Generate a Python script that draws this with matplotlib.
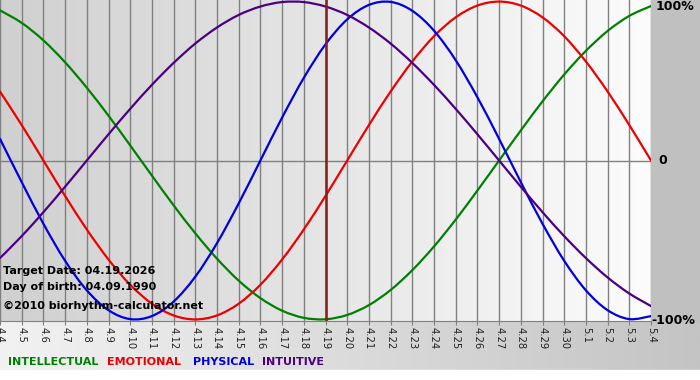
import numpy as np
import matplotlib
matplotlib.use("Agg")
import matplotlib.pyplot as plt
from matplotlib.colors import LinearSegmentedColormap
from matplotlib.path import Path
from matplotlib.patches import PathPatch

# ---- data (one value per day) ----
dates = ["4.4", "4.5", "4.6", "4.7", "4.8", "4.9", "4.10", "4.11", "4.12", "4.13",
         "4.14", "4.15", "4.16", "4.17", "4.18", "4.19", "4.20", "4.21", "4.22", "4.23",
         "4.24", "4.25", "4.26", "4.27", "4.28", "4.29", "4.30", "5.1", "5.2", "5.3", "5.4"]

intellectual = [0.945, 0.866, 0.756, 0.618, 0.458, 0.282, 0.095, -0.095, -0.282, -0.458,
                -0.618, -0.756, -0.866, -0.945, -0.990, -0.999, -0.972, -0.910, -0.815, -0.690,
                -0.541, -0.372, -0.189, 0.000, 0.189, 0.372, 0.541, 0.690, 0.815, 0.910, 0.972]

emotional = [0.434, 0.223, 0.000, -0.223, -0.434, -0.623, -0.782, -0.901, -0.975, -1.000,
             -0.975, -0.901, -0.782, -0.623, -0.434, -0.223, 0.000, 0.223, 0.434, 0.623,
             0.782, 0.901, 0.975, 1.000, 0.975, 0.901, 0.782, 0.623, 0.434, 0.223, 0.000]

physical = [0.136, -0.136, -0.398, -0.631, -0.817, -0.942, -0.998, -0.979, -0.888, -0.731,
            -0.520, -0.270, 0.000, 0.270, 0.520, 0.731, 0.888, 0.979, 0.998, 0.942,
            0.817, 0.631, 0.398, 0.136, -0.136, -0.398, -0.631, -0.817, -0.942, -0.998, -0.979]

intuitive = [-0.614, -0.476, -0.325, -0.165, 0.000, 0.165, 0.325, 0.476, 0.614, 0.736,
             0.837, 0.916, 0.969, 0.997, 0.997, 0.969, 0.916, 0.837, 0.736, 0.614,
             0.476, 0.325, 0.165, 0.000, -0.165, -0.325, -0.476, -0.614, -0.736, -0.837, -0.916]

target_label = "4.19"
series_names = ["INTELLECTUAL", "EMOTIONAL", "PHYSICAL", "INTUITIVE"]
y_labels = ["100%", "0", "-100%"]
info_lines = ["Target Date: 04.19.2026", "Day of birth: 04.09.1990", "\u00a92010 biorhythm-calculator.net"]

# ---- styles ----
C_INT = "#008000"
C_EMO = "#ee0000"
C_PHY = "#0000dd"
C_ITU = "#4b0082"
W, H = 700, 380
PLOT_R, PLOT_B = 651, 321

fig = plt.figure(figsize=(W / 100, H / 100), dpi=100)

def fx(x):
    return x / W

def fy(y):
    return 1 - y / H

def smooth_line(ax, xs, ys, color):
    """Draw a smooth curve through the data points (Catmull-Rom as Bezier path)."""
    xs = np.asarray(xs, float)
    ys = np.asarray(ys, float)
    n = len(xs)
    verts = [(xs[0], ys[0])]
    codes = [Path.MOVETO]
    for i in range(n - 1):
        i0 = max(i - 1, 0)
        i3 = min(i + 2, n - 1)
        c1 = (xs[i] + (xs[i + 1] - xs[i0]) / 6, ys[i] + (ys[i + 1] - ys[i0]) / 6)
        c2 = (xs[i + 1] - (xs[i3] - xs[i]) / 6, ys[i + 1] - (ys[i3] - ys[i]) / 6)
        verts += [c1, c2, (xs[i + 1], ys[i + 1])]
        codes += [Path.CURVE4] * 3
    ax.add_patch(PathPatch(Path(verts, codes), facecolor="none", edgecolor=color,
                           lw=1.6, zorder=3, capstyle="round", joinstyle="round"))

# background
bg = fig.add_axes([0, 0, 1, 1])
bg.set_xlim(0, W)
bg.set_ylim(H, 0)
bg.axis("off")
grad = np.linspace(0, 1, 256).reshape(1, -1)
cm_bottom = LinearSegmentedColormap.from_list("b", ["#f2f2f2", "#c4c4c4"])
bg.imshow(grad, cmap=cm_bottom, extent=[0, W, 370, PLOT_B], aspect="auto", zorder=0)
bg.add_patch(plt.Rectangle((0, 370), W, 10, color="white", zorder=1))
bg.add_patch(plt.Rectangle((PLOT_R, 0), W - PLOT_R, PLOT_B + 1, color="#c0c0c0", zorder=1))

# main axes
ax = fig.add_axes([0, fy(PLOT_B), PLOT_R / W, PLOT_B / H])
x = np.arange(len(dates))
ax.set_xlim(0, len(dates) - 1)
ax.set_ylim(-1.01, 1.01)
cm_plot = LinearSegmentedColormap.from_list("p", ["#d0d0d0", "#fcfcfc"])
ax.imshow(grad, cmap=cm_plot, extent=[0, len(dates) - 1, -1.01, 1.01], aspect="auto", zorder=0)
for xi in x:
    ax.axvline(xi, color="#808080", lw=1.0, zorder=1)
ax.axhline(0, color="#808080", lw=1.0, zorder=1)

smooth_line(ax, x, intellectual, C_INT)
smooth_line(ax, x, emotional, C_EMO)
smooth_line(ax, x, physical, C_PHY)
smooth_line(ax, x, intuitive, C_ITU)
ax.axvline(dates.index(target_label), color="#8b1a1a", lw=1.8, zorder=4)

for s in ["top", "left", "right"]:
    ax.spines[s].set_visible(False)
ax.spines["bottom"].set_color("#808080")
ax.set_yticks([])
ax.set_xticks(x)
ax.set_xticklabels(dates, rotation=270, fontsize=7.2, color="#222222")
ax.tick_params(axis="x", length=3, color="#808080", pad=1)
for lbl in ax.get_xticklabels():
    lbl.set_va("top")
    lbl.set_ha("center")

# info text
for i, t in enumerate(info_lines):
    fig.text(fx(3), fy([271, 287, 306][i]), t, fontsize=8, fontweight="bold",
             color="black", va="center", ha="left", zorder=10)

# right labels
fig.text(fx(656), fy(7), y_labels[0], fontsize=9, fontweight="bold", va="center", ha="left")
fig.text(fx(658), fy(161), y_labels[1], fontsize=9, fontweight="bold", va="center", ha="left")
fig.text(fx(651), fy(321), y_labels[2], fontsize=9, fontweight="bold", va="center", ha="left")

# legend
for name, col, xp in zip(series_names, [C_INT, C_EMO, C_PHY, C_ITU], [8, 107, 193, 262]):
    fig.text(fx(xp), fy(362), name, fontsize=8, fontweight="bold", color=col,
             va="center", ha="left")

fig.savefig("out.png", dpi=100)
